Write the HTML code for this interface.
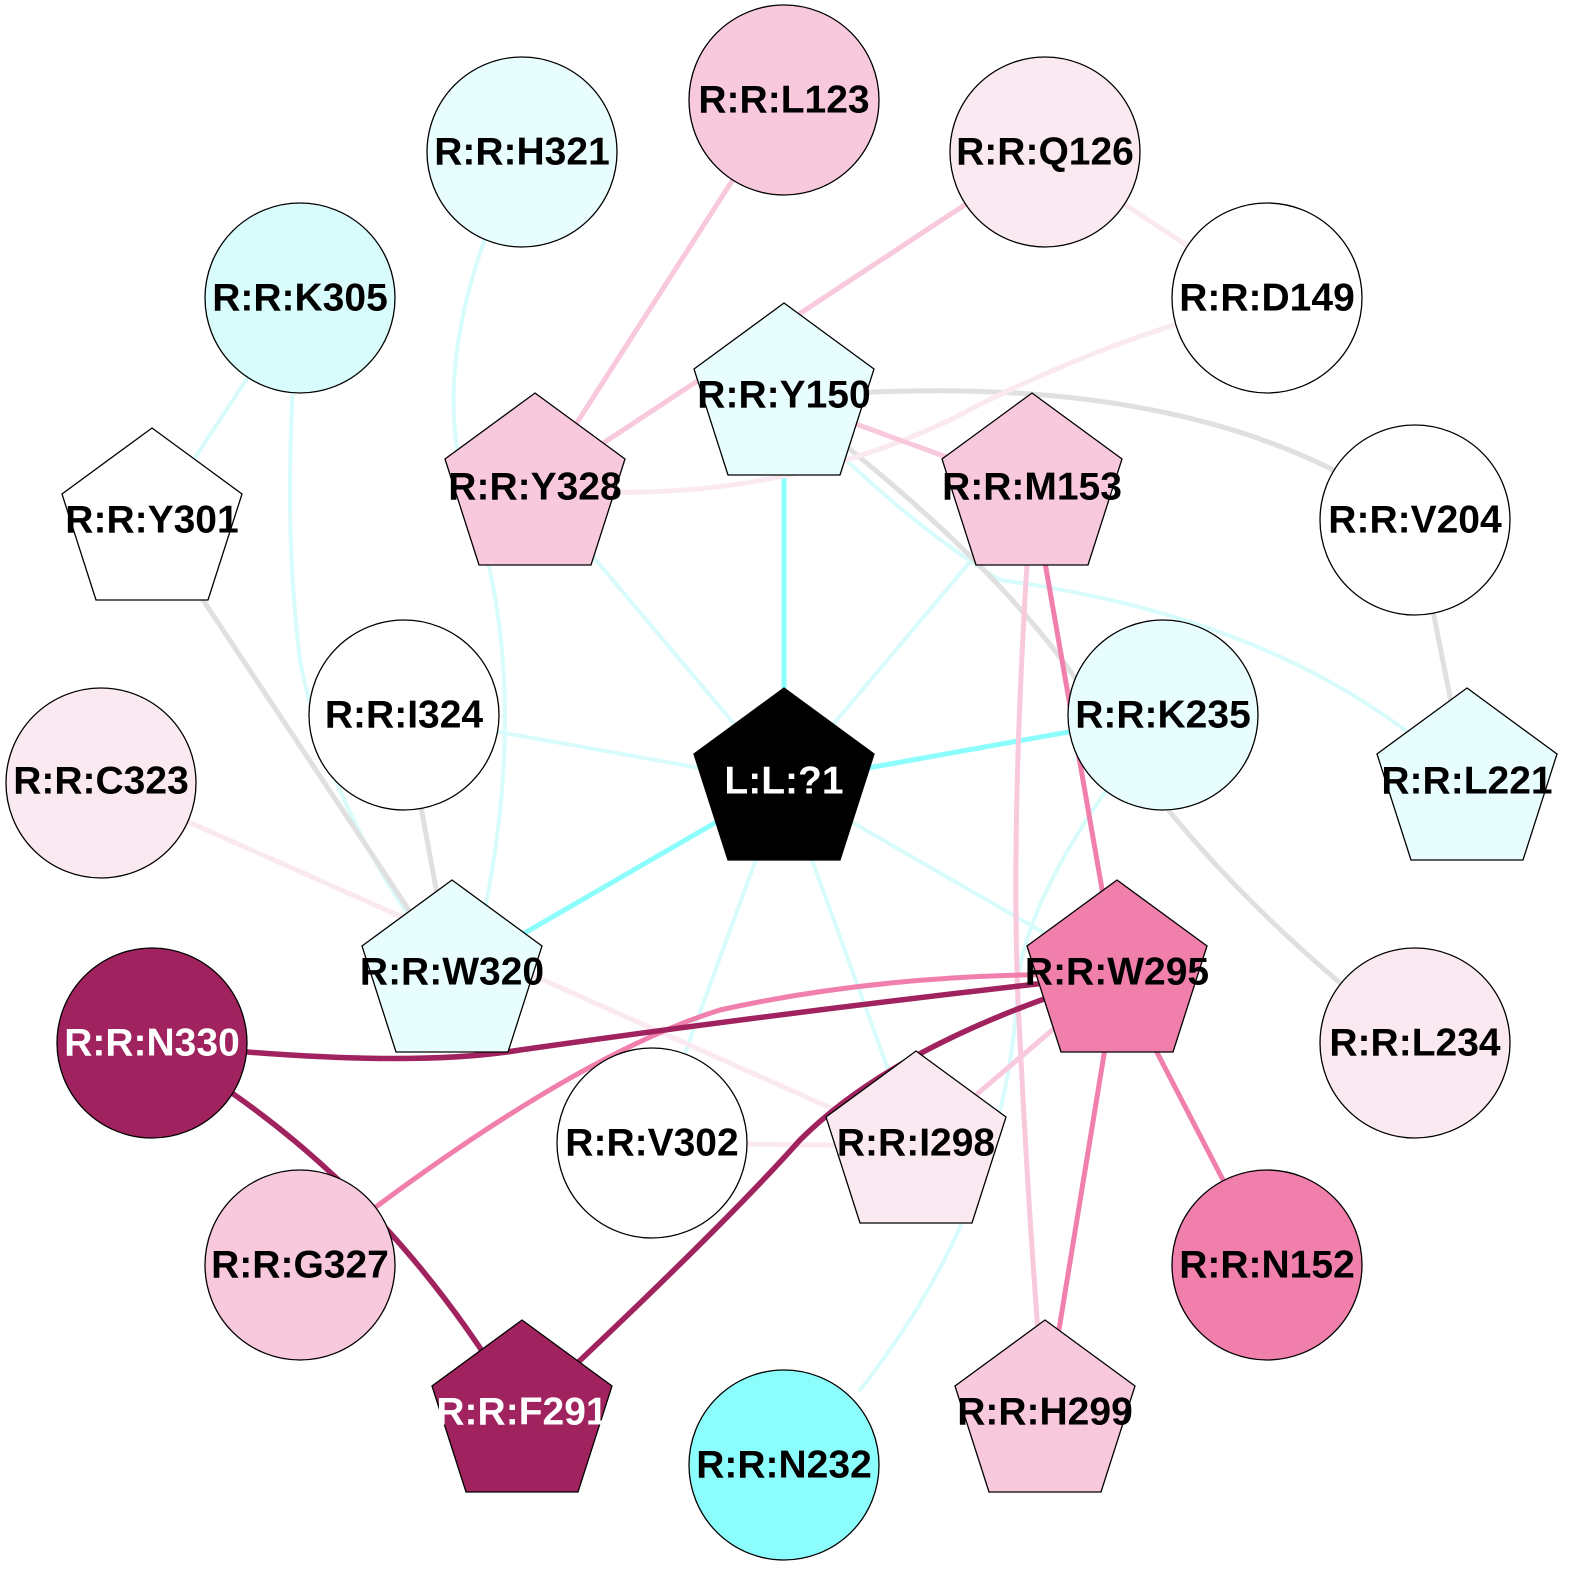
<!DOCTYPE html>
<html><head><meta charset="utf-8"><style>
html,body{margin:0;padding:0;background:#fff}
svg{display:block}
text{font-family:"Liberation Sans",sans-serif;font-weight:bold;font-size:39px;text-anchor:middle;dominant-baseline:central}
</style></head><body>
<svg width="1574" height="1574" viewBox="0 0 1574 1574" xmlns="http://www.w3.org/2000/svg">
<g fill="none" stroke-linecap="round">
<g stroke="#d8fbfb" stroke-width="4">
<line x1="784" y1="783" x2="404" y2="715"/>
<line x1="784" y1="783" x2="535" y2="488"/>
<line x1="784" y1="783" x2="1032" y2="488"/>
<line x1="784" y1="783" x2="1117" y2="975"/>
<line x1="784" y1="783" x2="652" y2="1143"/>
<line x1="784" y1="783" x2="916" y2="1146"/>
<path d="M784,398 Q900,520 1000,580 Q1300,620 1467,783"/>
<path d="M522,152 Q420,360 470,500 Q540,700 470,975"/>
<path d="M300,298 L152,523"/>
<path d="M300,298 Q280,500 300,660 Q330,820 452,975"/>
<path d="M1163,715 Q1030,880 1018,980 Q1010,1200 860,1390"/>
</g>
<g stroke="#8cfdfd" stroke-width="5">
<line x1="784" y1="783" x2="784" y2="398"/>
<line x1="784" y1="783" x2="1163" y2="715"/>
<line x1="784" y1="783" x2="452" y2="975"/>
</g>
<g stroke="#e0e0e0" stroke-width="5">
<path d="M784,398 Q1000,560 1090,700 Q1200,880 1415,1043"/>
<path d="M784,398 Q1200,360 1415,520"/>
<line x1="152" y1="523" x2="452" y2="975"/>
<line x1="404" y1="715" x2="452" y2="975"/>
<line x1="1415" y1="520" x2="1467" y2="783"/>
</g>
<g stroke="#fbe9f1" stroke-width="5">
<line x1="1045" y1="152" x2="1267" y2="298"/>
<path d="M1267,298 Q1100,340 950,420 Q760,510 535,488"/>
<line x1="101" y1="783" x2="916" y2="1146"/>
<line x1="652" y1="1143" x2="916" y2="1146"/>
</g>
<g stroke="#f8c8dc" stroke-width="5">
<line x1="784" y1="100" x2="535" y2="488"/>
<line x1="1045" y1="152" x2="535" y2="488"/>
<line x1="784" y1="398" x2="1032" y2="488"/>
<path d="M1032,488 Q1010,800 1018,1000 Q1030,1250 1045,1415"/>
<line x1="1117" y1="975" x2="916" y2="1146"/>
</g>
<g stroke="#f07fac" stroke-width="5">
<line x1="1032" y1="488" x2="1117" y2="975"/>
<line x1="1117" y1="975" x2="1267" y2="1265"/>
<line x1="1117" y1="975" x2="1045" y2="1415"/>
<path d="M1117,975 Q900,970 720,1010 Q560,1060 300,1265"/>
</g>
<g stroke="#a0225e" stroke-width="5.5">
<path d="M152,1043 Q400,1070 520,1050 Q800,1010 1117,975"/>
<path d="M152,1043 Q380,1170 522,1415"/>
<path d="M1117,975 Q900,1040 800,1140 Q720,1230 522,1415"/>
</g>
</g>
<g stroke="#000" stroke-width="1.3">
<circle cx="784" cy="100" r="95" fill="#f8c8dc"/>
<circle cx="522" cy="152" r="95" fill="#e8fdfd"/>
<circle cx="1045" cy="152" r="95" fill="#fbe9f1"/>
<circle cx="300" cy="298" r="95" fill="#d8fbfb"/>
<circle cx="1267" cy="298" r="95" fill="#fff"/>
<circle cx="1415" cy="520" r="95" fill="#fff"/>
<circle cx="404" cy="715" r="95" fill="#fff"/>
<circle cx="1163" cy="715" r="95" fill="#e8fdfd"/>
<circle cx="101" cy="783" r="95" fill="#fbe9f1"/>
<circle cx="152" cy="1043" r="95" fill="#a0225e"/>
<circle cx="1415" cy="1043" r="95" fill="#fbe9f1"/>
<circle cx="652" cy="1143" r="95" fill="#fff"/>
<circle cx="300" cy="1265" r="95" fill="#f8c8dc"/>
<circle cx="1267" cy="1265" r="95" fill="#f07fac"/>
<circle cx="784" cy="1465" r="95" fill="#8cfdfd"/>
<polygon transform="translate(784,398)" points="0,-95 90,-29 56,77 -56,77 -90,-29" fill="#e8fdfd"/>
<polygon transform="translate(535,488)" points="0,-95 90,-29 56,77 -56,77 -90,-29" fill="#f8c8dc"/>
<polygon transform="translate(1032,488)" points="0,-95 90,-29 56,77 -56,77 -90,-29" fill="#f8c8dc"/>
<polygon transform="translate(152,523)" points="0,-95 90,-29 56,77 -56,77 -90,-29" fill="#fff"/>
<polygon transform="translate(784,783)" points="0,-95 90,-29 56,77 -56,77 -90,-29" fill="#000"/>
<polygon transform="translate(1467,783)" points="0,-95 90,-29 56,77 -56,77 -90,-29" fill="#e8fdfd"/>
<polygon transform="translate(452,975)" points="0,-95 90,-29 56,77 -56,77 -90,-29" fill="#e8fdfd"/>
<polygon transform="translate(1117,975)" points="0,-95 90,-29 56,77 -56,77 -90,-29" fill="#f07fac"/>
<polygon transform="translate(916,1146)" points="0,-95 90,-29 56,77 -56,77 -90,-29" fill="#fbe9f1"/>
<polygon transform="translate(522,1415)" points="0,-95 90,-29 56,77 -56,77 -90,-29" fill="#a0225e"/>
<polygon transform="translate(1045,1415)" points="0,-95 90,-29 56,77 -56,77 -90,-29" fill="#f8c8dc"/>
</g>
<g fill="#000">
<text x="784" y="100">R:R:L123</text>
<text x="522" y="152">R:R:H321</text>
<text x="1045" y="152">R:R:Q126</text>
<text x="300" y="298">R:R:K305</text>
<text x="1267" y="298">R:R:D149</text>
<text x="784" y="395">R:R:Y150</text>
<text x="535" y="487">R:R:Y328</text>
<text x="1032" y="487">R:R:M153</text>
<text x="152" y="520">R:R:Y301</text>
<text x="1415" y="520">R:R:V204</text>
<text x="404" y="715">R:R:I324</text>
<text x="1163" y="715">R:R:K235</text>
<text x="101" y="781">R:R:C323</text>
<text x="1467" y="781">R:R:L221</text>
<text x="452" y="972">R:R:W320</text>
<text x="1117" y="972">R:R:W295</text>
<text x="1415" y="1043">R:R:L234</text>
<text x="652" y="1143">R:R:V302</text>
<text x="916" y="1143">R:R:I298</text>
<text x="300" y="1265">R:R:G327</text>
<text x="1267" y="1265">R:R:N152</text>
<text x="784" y="1465">R:R:N232</text>
<text x="1045" y="1412">R:R:H299</text>
</g>
<g fill="#fff">
<text x="784" y="781">L:L:?1</text>
<text x="152" y="1043">R:R:N330</text>
<text x="522" y="1412">R:R:F291</text>
</g>
</svg>
</body></html>
